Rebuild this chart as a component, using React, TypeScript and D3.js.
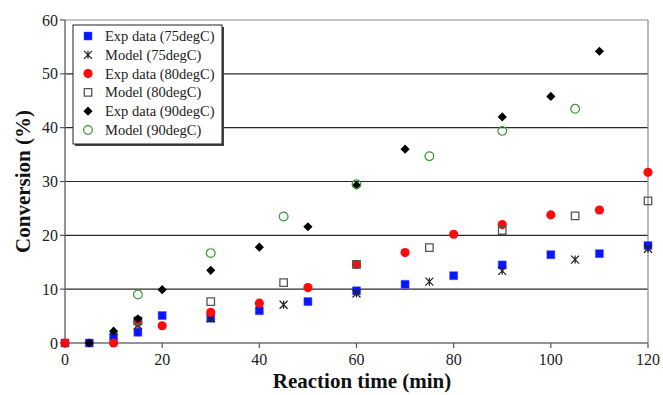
import React from "react";
import * as d3 from "d3";

// reaction time (min) and conversion (%)
const exp75X = [0, 5, 10, 15, 20, 30, 40, 50, 60, 70, 80, 90, 100, 110, 120];
const exp75Y = [0, 0, 1.1, 2.0, 5.1, 4.6, 6.0, 7.7, 9.7, 10.9, 12.5, 14.5, 16.4, 16.6, 18.1];

const model75X = [15, 30, 45, 60, 75, 90, 105, 120];
const model75Y = [3.3, 4.6, 7.1, 9.2, 11.4, 13.4, 15.5, 17.5];

const exp80X = [0, 10, 15, 20, 30, 40, 50, 60, 70, 80, 90, 100, 110, 120];
const exp80Y = [0, 0, 3.9, 3.2, 5.7, 7.4, 10.3, 14.6, 16.8, 20.2, 22.0, 23.8, 24.7, 31.7];

const model80X = [15, 30, 45, 60, 75, 90, 105, 120];
const model80Y = [4.1, 7.7, 11.2, 14.6, 17.7, 20.9, 23.6, 26.4];

const exp90X = [5, 10, 15, 20, 30, 40, 50, 60, 70, 90, 100, 110];
const exp90Y = [0, 2.2, 4.5, 9.9, 13.5, 17.8, 21.6, 29.3, 36.0, 42.0, 45.8, 54.2];

const model90X = [15, 30, 45, 60, 75, 90, 105];
const model90Y = [9.0, 16.7, 23.5, 29.5, 34.7, 39.4, 43.5];

const xTicks = [0, 20, 40, 60, 80, 100, 120];
const yTicks = [0, 10, 20, 30, 40, 50, 60];

const FONT = "'Liberation Serif', 'DejaVu Serif', serif";

type Kind = "square" | "asterisk" | "dot" | "openSquare" | "diamond" | "ring";

const series: { name: string; xs: number[]; ys: number[]; kind: Kind }[] = [
  { name: "Exp data (75degC)", xs: exp75X, ys: exp75Y, kind: "square" },
  { name: "Model (75degC)", xs: model75X, ys: model75Y, kind: "asterisk" },
  { name: "Exp data (80degC)", xs: exp80X, ys: exp80Y, kind: "dot" },
  { name: "Model (80degC)", xs: model80X, ys: model80Y, kind: "openSquare" },
  { name: "Exp data (90degC)", xs: exp90X, ys: exp90Y, kind: "diamond" },
  { name: "Model (90degC)", xs: model90X, ys: model90Y, kind: "ring" },
];

const squarePath = d3.symbol(d3.symbolSquare, 64)()!;
const openSquarePath = d3.symbol(d3.symbolSquare, 56)()!;
const diamondPath = d3.symbol(d3.symbolSquare, 42)()!;
const circlePath = d3.symbol(d3.symbolCircle, 66)()!;
const ringPath = d3.symbol(d3.symbolCircle, 60)()!;

function Marker({ kind, x, y }: { kind: Kind; x: number; y: number }) {
  const t = `translate(${x},${y})`;
  switch (kind) {
    case "square":
      return <path d={squarePath} transform={t} fill="#0a14ff" stroke="#3b4bff" strokeWidth={0.5} />;
    case "asterisk": {
      const r = 4;
      const p = d3.path();
      p.moveTo(-r, -r); p.lineTo(r, r);
      p.moveTo(-r, r); p.lineTo(r, -r);
      p.moveTo(0, -r); p.lineTo(0, r);
      return <path d={p.toString()} transform={t} stroke="#222" strokeWidth={1.2} fill="none" />;
    }
    case "dot":
      return <path d={circlePath} transform={t} fill="#ff0a0a" />;
    case "openSquare":
      return <path d={openSquarePath} transform={t} fill="none" stroke="#555" strokeWidth={1.3} />;
    case "diamond":
      return <path d={diamondPath} transform={`${t} rotate(45)`} fill="#000" />;
    case "ring":
      return <path d={ringPath} transform={t} fill="none" stroke="#3a9a35" strokeWidth={1.2} />;
  }
}

export default function App() {
  const width = 663;
  const height = 395;
  const margin = { top: 20, right: 15, bottom: 52, left: 65 };

  const x = d3.scaleLinear().domain([0, 120]).range([margin.left, width - margin.right]);
  const y = d3.scaleLinear().domain([0, 60]).range([height - margin.bottom, margin.top]);

  const x0 = x(0), x1 = x(120), y0 = y(0), y1 = y(60);

  const legend = { x: 73, y: 25, w: 149, h: 119 };
  const rowGap = 18.8;

  return (
    <svg
      width={width}
      height={height}
      style={{ position: "absolute", left: 0, top: 0, background: "#fff" }}
      fontFamily={FONT}
    >
      {/* gridlines */}
      {yTicks.filter(v => v > 0 && v < 60).map(v => (
        <line key={v} x1={x0} x2={x1} y1={y(v)} y2={y(v)} stroke="#2a2a2a" strokeWidth={1.2} />
      ))}
      {/* frame */}
      <line x1={x0} x2={x1} y1={y1} y2={y1} stroke="#8a8a8a" strokeWidth={1.2} />
      <line x1={x1} x2={x1} y1={y1} y2={y0} stroke="#8a8a8a" strokeWidth={1.2} />
      <line x1={x0} x2={x0} y1={y1} y2={y0} stroke="#707070" strokeWidth={1.5} />
      <line x1={x0} x2={x1} y1={y0} y2={y0} stroke="#707070" strokeWidth={1.5} />

      {/* y ticks */}
      {yTicks.map(v => (
        <g key={v}>
          <line x1={x0 - 5} x2={x0} y1={y(v)} y2={y(v)} stroke="#555" strokeWidth={1.2} />
          <text x={x0 - 7} y={y(v)} dy="0.35em" textAnchor="end" fontSize={16} fill="#222">
            {v}
          </text>
        </g>
      ))}
      {/* x ticks */}
      {xTicks.map(v => (
        <g key={v}>
          <line x1={x(v)} x2={x(v)} y1={y0} y2={y0 + 5} stroke="#555" strokeWidth={1.2} />
          <text x={x(v)} y={y0 + 22} textAnchor="middle" fontSize={16} fill="#222">
            {v}
          </text>
        </g>
      ))}

      {/* axis titles */}
      <text x={362} y={388} textAnchor="middle" fontSize={21} fontWeight="bold" fill="#111">
        Reaction time (min)
      </text>
      <text
        transform={`translate(30,${(y0 + y1) / 2}) rotate(-90)`}
        textAnchor="middle"
        fontSize={21}
        fontWeight="bold"
        fill="#111"
      >
        Conversion (%)
      </text>

      {/* data */}
      {series.map(s => (
        <g key={s.name}>
          {s.xs.map((xv, i) => (
            <Marker key={i} kind={s.kind} x={x(xv)} y={y(s.ys[i])} />
          ))}
        </g>
      ))}

      {/* legend */}
      <rect x={legend.x + 2} y={legend.y + 2} width={legend.w} height={legend.h} fill="#444" />
      <rect x={legend.x} y={legend.y} width={legend.w} height={legend.h} fill="#fff" stroke="#222" strokeWidth={1} />
      {series.map((s, i) => {
        const cy = legend.y + 11 + i * rowGap;
        return (
          <g key={s.name}>
            <Marker kind={s.kind} x={legend.x + 15} y={cy} />
            <text x={legend.x + 32} y={cy} dy="0.35em" fontSize={14.5} fill="#222">
              {s.name}
            </text>
          </g>
        );
      })}
    </svg>
  );
}
